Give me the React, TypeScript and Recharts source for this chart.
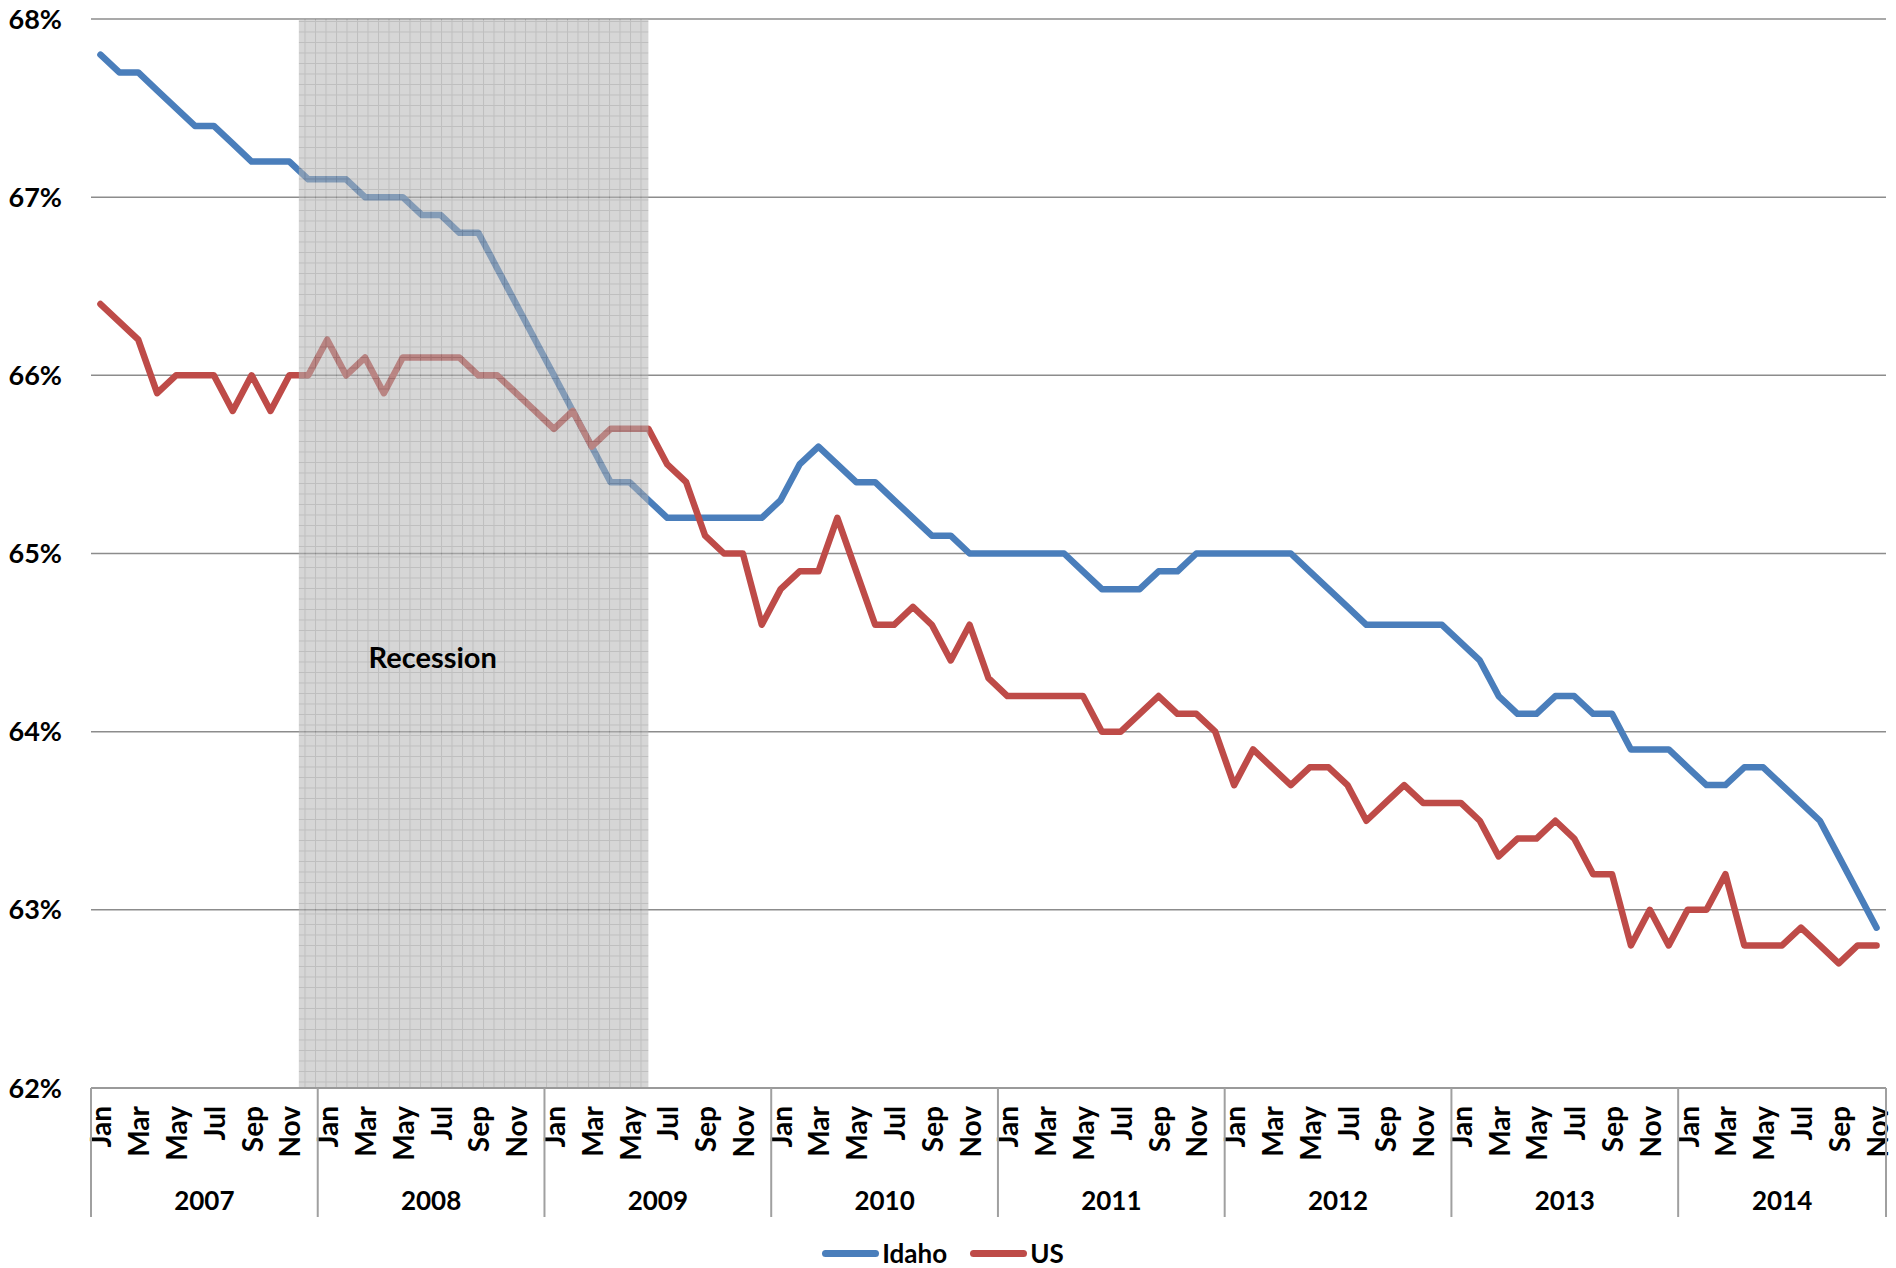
import {
  CartesianGrid,
  Legend,
  Line,
  LineChart,
  ReferenceArea,
  XAxis,
  YAxis,
} from "recharts";

const FONT = "Lato, 'Open Sans', sans-serif";

const YEARS = [2007, 2008, 2009, 2010, 2011, 2012, 2013, 2014];
const MONTHS = ["Jan", "Feb", "Mar", "Apr", "May", "Jun", "Jul", "Aug", "Sep", "Oct", "Nov", "Dec"];
const LABELED_MONTHS = ["Jan", "Mar", "May", "Jul", "Sep", "Nov"];

// labor force participation rate, %, Jan 2007 - Nov 2014
const IDAHO = [
  67.8, 67.7, 67.7, 67.6, 67.5, 67.4, 67.4, 67.3, 67.2, 67.2, 67.2, 67.1,
  67.1, 67.1, 67.0, 67.0, 67.0, 66.9, 66.9, 66.8, 66.8, 66.6, 66.4, 66.2,
  66.0, 65.8, 65.6, 65.4, 65.4, 65.3, 65.2, 65.2, 65.2, 65.2, 65.2, 65.2,
  65.3, 65.5, 65.6, 65.5, 65.4, 65.4, 65.3, 65.2, 65.1, 65.1, 65.0, 65.0,
  65.0, 65.0, 65.0, 65.0, 64.9, 64.8, 64.8, 64.8, 64.9, 64.9, 65.0, 65.0,
  65.0, 65.0, 65.0, 65.0, 64.9, 64.8, 64.7, 64.6, 64.6, 64.6, 64.6, 64.6,
  64.5, 64.4, 64.2, 64.1, 64.1, 64.2, 64.2, 64.1, 64.1, 63.9, 63.9, 63.9,
  63.8, 63.7, 63.7, 63.8, 63.8, 63.7, 63.6, 63.5, 63.3, 63.1, 62.9,
];

const US = [
  66.4, 66.3, 66.2, 65.9, 66.0, 66.0, 66.0, 65.8, 66.0, 65.8, 66.0, 66.0,
  66.2, 66.0, 66.1, 65.9, 66.1, 66.1, 66.1, 66.1, 66.0, 66.0, 65.9, 65.8,
  65.7, 65.8, 65.6, 65.7, 65.7, 65.7, 65.5, 65.4, 65.1, 65.0, 65.0, 64.6,
  64.8, 64.9, 64.9, 65.2, 64.9, 64.6, 64.6, 64.7, 64.6, 64.4, 64.6, 64.3,
  64.2, 64.2, 64.2, 64.2, 64.2, 64.0, 64.0, 64.1, 64.2, 64.1, 64.1, 64.0,
  63.7, 63.9, 63.8, 63.7, 63.8, 63.8, 63.7, 63.5, 63.6, 63.7, 63.6, 63.6,
  63.6, 63.5, 63.3, 63.4, 63.4, 63.5, 63.4, 63.2, 63.2, 62.8, 63.0, 62.8,
  63.0, 63.0, 63.2, 62.8, 62.8, 62.8, 62.9, 62.8, 62.7, 62.8, 62.8,
];

const Y_TICKS = [62, 63, 64, 65, 66, 67, 68];

const RECESSION_START = "Dec 2007";
const RECESSION_END = "Jun 2009";

const SERIES = [
  { key: "idaho", name: "Idaho", color: "#4a7ebb" },
  { key: "us", name: "US", color: "#be4b48" },
];

const rows = IDAHO.map((v, i) => ({
  i,
  month: MONTHS[i % 12],
  year: YEARS[Math.floor(i / 12)],
  label: `${MONTHS[i % 12]} ${YEARS[Math.floor(i / 12)]}`,
  idaho: v,
  us: US[i],
}));

const lastIdx = rows.length - 1;
const yearBounds = YEARS.map((y) => rows.findIndex((r) => r.year === y) - 0.5).concat(lastIdx + 0.5);
const monthTicks = rows.filter((r) => LABELED_MONTHS.includes(r.month)).map((r) => r.i).concat(yearBounds);
const yearCenters = YEARS.map((y) => {
  const idx = rows.filter((r) => r.year === y).map((r) => r.i);
  return (idx[0] + idx[idx.length - 1]) / 2;
});

const recX1 = rows.findIndex((r) => r.label === RECESSION_START) - 0.5;
const recX2 = rows.findIndex((r) => r.label === RECESSION_END);

const MonthTick = (props: any) => {
  const { x, y, payload } = props;
  const v = payload.value;
  if (!Number.isInteger(v)) {
    return <line x1={x} x2={x} y1={y} y2={y + 129} stroke="#a0a0a0" strokeWidth={2} />;
  }
  const ty = y + 18;
  return (
    <text
      x={x}
      y={ty}
      transform={`rotate(-90 ${x} ${ty})`}
      textAnchor="end"
      dominantBaseline="central"
      fontFamily={FONT}
      fontWeight={700}
      fontSize={28}
      fill="#000"
    >
      {MONTHS[v % 12]}
    </text>
  );
};

const YearTick = (props: any) => {
  const { x, y, payload } = props;
  const k = yearCenters.indexOf(payload.value);
  return (
    <text
      x={x}
      y={y + 17}
      textAnchor="middle"
      dominantBaseline="central"
      fontFamily={FONT}
      fontWeight={700}
      fontSize={26}
      fill="#000"
    >
      {YEARS[k]}
    </text>
  );
};

const RecessionLabel = (props: any) => {
  const { viewBox } = props;
  if (!viewBox) return null;
  return (
    <text
      x={viewBox.x + viewBox.width * 0.383}
      y={viewBox.y + viewBox.height * 0.596}
      textAnchor="middle"
      dominantBaseline="central"
      fontFamily={FONT}
      fontWeight={700}
      fontSize={29}
      fill="#000"
    >
      Recession
    </text>
  );
};

const LegendContent = () => (
  <div
    style={{
      display: "flex",
      justifyContent: "center",
      alignItems: "center",
      height: 30,
      lineHeight: "30px",
      fontFamily: FONT,
      fontWeight: 700,
      fontSize: 26,
      color: "#000",
    }}
  >
    {SERIES.map((s, k) => (
      <div key={s.key} style={{ display: "flex", alignItems: "center", marginLeft: k ? 23 : 0 }}>
        <span
          style={{
            display: "inline-block",
            width: 57,
            height: 7,
            borderRadius: 4,
            background: s.color,
            marginRight: 3,
          }}
        />
        <span>{s.name}</span>
      </div>
    ))}
  </div>
);

export default function App() {
  return (
    <div style={{ width: 1896, height: 1268, background: "#fff" }}>
      <style>{`body { margin: 0; }`}</style>
      <LineChart
        width={1896}
        height={1268}
        data={rows}
        margin={{ top: 19, right: 10, left: 0, bottom: 0 }}
      >
        <defs>
          <pattern id="recessionGrid" width={10.5} height={10.5} patternUnits="userSpaceOnUse">
            <rect width={10.5} height={10.5} fill="#b4b4b4" />
            <path d="M0 0.5H10.5M0.5 0V10.5" stroke="#8a8a8a" strokeWidth={1} />
          </pattern>
        </defs>
        <CartesianGrid vertical={false} stroke="#8c8c8c" strokeWidth={1.5} />
        <XAxis
          type="number"
          dataKey="i"
          domain={[-0.5, lastIdx + 0.5]}
          allowDataOverflow
          ticks={monthTicks}
          interval={0}
          tickLine={false}
          tickSize={0}
          tickMargin={0}
          axisLine={{ stroke: "#9a9a9a", strokeWidth: 2 }}
          height={95}
          tick={MonthTick}
        />
        <XAxis
          xAxisId="year"
          type="number"
          dataKey="i"
          domain={[-0.5, lastIdx + 0.5]}
          allowDataOverflow
          ticks={yearCenters}
          interval={0}
          tickLine={false}
          tickSize={0}
          tickMargin={0}
          axisLine={false}
          height={55}
          tick={YearTick}
        />
        <YAxis
          type="number"
          domain={[62, 68]}
          ticks={Y_TICKS}
          interval={0}
          width={91}
          axisLine={false}
          tickLine={false}
          tickSize={0}
          tickMargin={29}
          tickFormatter={(v) => `${v}%`}
          tick={{ fontFamily: FONT, fontWeight: 700, fontSize: 27, fill: "#000" }}
        />
        {SERIES.map((s) => (
          <Line
            key={s.key}
            type="linear"
            dataKey={s.key}
            name={s.name}
            stroke={s.color}
            strokeWidth={6.5}
            strokeLinecap="round"
            strokeLinejoin="round"
            dot={false}
            activeDot={false}
            isAnimationActive={false}
          />
        ))}
        <ReferenceArea
          x1={recX1}
          x2={recX2}
          y1={62}
          y2={68}
          fill="url(#recessionGrid)"
          fillOpacity={0.55}
          stroke="none"
          zIndex={450}
          label={RecessionLabel}
        />
        <Legend verticalAlign="bottom" align="center" content={LegendContent} />
      </LineChart>
    </div>
  );
}
